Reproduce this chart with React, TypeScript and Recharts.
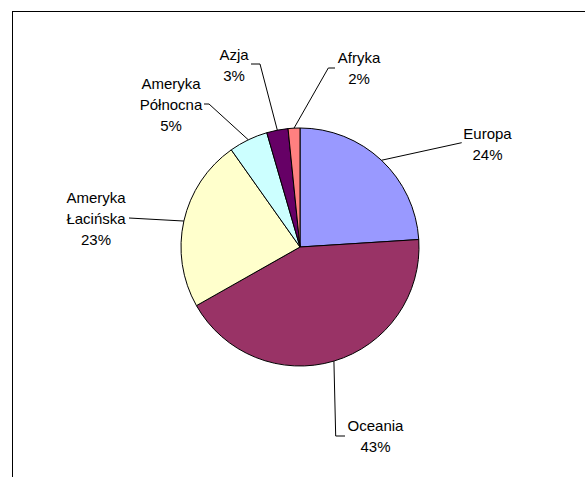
import { PieChart, Pie, Cell } from 'recharts';

const categories = ['Europa', 'Oceania', 'Ameryka Łacińska', 'Ameryka Północna', 'Azja', 'Afryka'];
const values = [24.0, 42.8, 23.4, 5.3, 2.9, 1.6];
const colors = ['#9999FF', '#993366', '#FFFFCC', '#CCFFFF', '#660066', '#FF8080'];

// label block centre + leader points, relative to pie centre
const labelLayout = [
  { text: [187.5, -103.5], path: [[161.7, -104.3]] },
  { text: [75.5, 188.5], path: [[35.7, 189], [45, 189]] },
  { text: [-204, -28.5], path: [[-171, -29]] },
  { text: [-129, -143], path: [[-91, -143], [-96, -143]] },
  { text: [-66, -182.5], path: [[-40, -183], [-49, -183]] },
  { text: [59, -179.5], path: [[28.3, -179], [35, -179]] },
];

const data = categories.map((name, i) => ({ name, value: values[i] }));

const RAD = Math.PI / 180;
const LINE_H = 21;

const renderLabel = (props: any) => {
  const { cx, cy, midAngle, outerRadius, index, name, percent } = props;
  const layout = labelLayout[index];
  const ex = cx + outerRadius * Math.cos(-midAngle * RAD);
  const ey = cy + outerRadius * Math.sin(-midAngle * RAD);
  const pts = [[ex, ey], ...layout.path.map(([dx, dy]) => [cx + dx, cy + dy])];
  const lines = [...String(name).split(' '), `${Math.round(percent * 100)}%`];
  const tx = cx + layout.text[0];
  const ty = cy + layout.text[1] - ((lines.length - 1) * LINE_H) / 2;
  return (
    <g key={`lbl-${index}`}>
      <polyline
        points={pts.map((p) => p.join(',')).join(' ')}
        fill="none"
        stroke="#000"
        strokeWidth={1}
      />
      {lines.map((t, i) => (
        <text
          key={i}
          x={tx}
          y={ty + i * LINE_H}
          textAnchor="middle"
          dominantBaseline="central"
          fill="#000"
          style={{ fontFamily: '"Liberation Sans", Arial, sans-serif', fontSize: 15 }}
        >
          {t}
        </text>
      ))}
    </g>
  );
};

export default function App() {
  return (
    <div style={{ position: 'absolute', left: 0, top: 0, width: 585, height: 477, background: '#fff', overflow: 'hidden' }}>
      <div
        style={{
          position: 'absolute',
          left: 12,
          top: 11,
          width: 600,
          height: 500,
          borderLeft: '1px solid #000',
          borderTop: '1px solid #000',
        }}
      />
      <div style={{ position: 'absolute', left: 0, top: 0 }}>
        <PieChart width={585} height={477} margin={{ top: 0, right: 0, bottom: 0, left: 0 }}>
          <Pie
            data={data}
            dataKey="value"
            nameKey="name"
            cx={300}
            cy={247}
            outerRadius={119}
            startAngle={90}
            endAngle={-270}
            stroke="#000"
            strokeWidth={1}
            label={renderLabel}
            labelLine={false}
            isAnimationActive={false}
          >
            {data.map((d, i) => (
              <Cell key={d.name} fill={colors[i]} />
            ))}
          </Pie>
        </PieChart>
      </div>
    </div>
  );
}
